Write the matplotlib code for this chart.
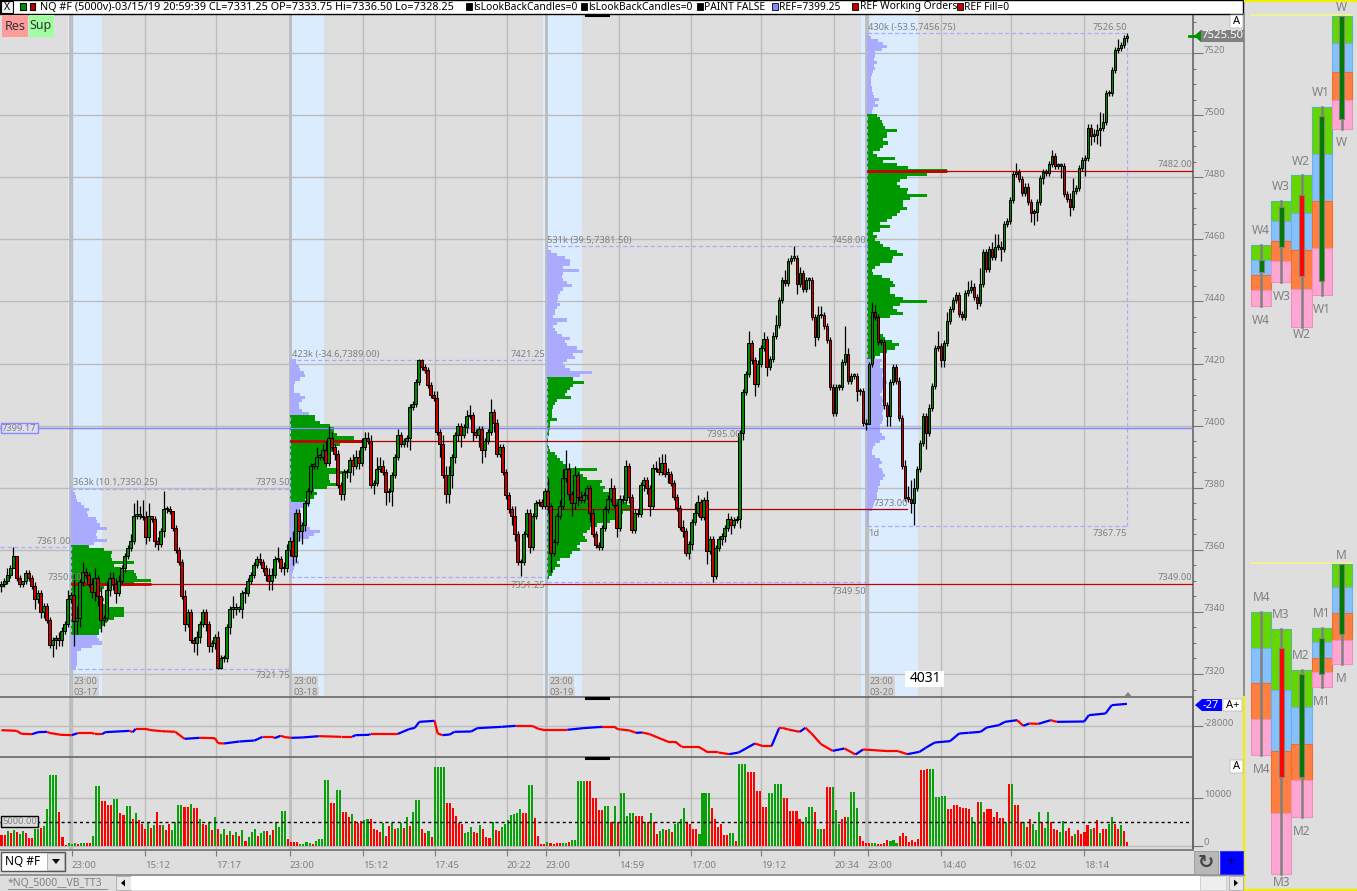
import numpy as np
import matplotlib
matplotlib.use('Agg')
import matplotlib.pyplot as plt
from matplotlib.collections import LineCollection
from matplotlib.patches import Rectangle, Polygon, FancyBboxPatch

plt.rcParams['font.family'] = ['Noto Sans', 'DejaVu Sans']

# candle closes, each candle opens where the last one closed
first_open = 7348.5
closes = [
    7349,7350,7352,7354,7358,7351,7349,7350,7352.5,7351,
    7348.5,7344,7346,7340,7342,7337.5,7329.5,7331,7331.5,7331,
    7334,7336,7344,7345.5,7337,7338,7349.5,7353,7352,7349,
    7346.5,7351,7345,7337.5,7338,7347,7351,7349,7346,7350,
    7354,7358,7360.5,7363,7371,7371,7371,7370.5,7364,7371,
    7370,7363,7362,7366,7373,7373,7372.5,7367,7360,7356,
    7345,7336,7340,7331,7330,7332,7336,7340,7336,7329,
    7330,7332,7322,7325,7325,7335,7341,7341,7341,7341,
    7346,7346,7350,7352,7355,7357,7356,7354,7352,7350,
    7352,7357,7357,7354,7354,7360,7363,7358,7372,7366,
    7368,7375,7379,7387,7387,7390,7390,7392,7388,7396,
    7393,7391,7381,7378,7385,7385,7389,7387,7390,7388,
    7393,7396,7395,7381,7381.5,7386,7387,7385,7378.5,7379,
    7384,7390,7397,7394,7395,7396,7406,7407,7414,7421,
    7419,7418,7413,7410,7409,7398,7394,7384,7378,7384,
    7390,7397,7400,7397,7399.5,7403,7403.5,7398,7397,7399,
    7392,7395,7398,7404.5,7401,7391,7393,7385,7377.5,7373,
    7371,7365,7356,7356,7365,7372,7361,7371,7375,7375.5,
    7374,7379,7374,7359,7362.5,7371,7374,7383,7386,7378,
    7375,7384,7377,7376,7377.5,7380,7372,7365,7361.5,7361,
    7367,7373,7376.5,7380,7374.5,7367,7376.5,7376,7387,7377,
    7366.5,7372,7371.5,7381,7382.5,7380,7374,7386.5,7386,7385,
    7388,7384.5,7384.5,7381.5,7377,7373.5,7367.5,7366,7359,7362,
    7369,7372,7375.5,7370.5,7376,7359.5,7363.5,7351.5,7360.5,7363.5,
    7364.5,7367,7370,7368,7369.5,7370,7397.5,7410.7,7416.5,7426.5,
    7421,7413.5,7420,7425,7428,7419,7421.5,7429,7432.5,7440.5,
    7447,7446,7453,7454,7454,7445.5,7449,7444,7447,7447,
    7435,7428.5,7435.5,7435.5,7432,7427.5,7412.5,7404,7412.5,7412.5,
    7420.5,7423,7414.5,7416,7416,7411,7411,7401,7400.5,7420,
    7436.7,7435,7427,7427,7406.5,7403,7414,7419,7414.5,7402.5,
    7387,7376.7,7376.5,7375,7380,7386,7394.4,7403,7397.5,7405.8,
    7412.7,7425,7425.5,7421,7426.5,7433.6,7437.5,7440.4,7442,7436,
    7435,7442.6,7443.7,7444.8,7441.5,7439.6,7445.6,7456,7450.5,7457,
    7454.3,7457.6,7457.6,7457,7465,7466,7472.6,7481,7481.6,7479.5,
    7475,7477,7472,7468.5,7468.8,7472,7479.8,7481.8,7481.4,7484.3,
    7486.7,7483.6,7483.6,7483.6,7474.5,7473,7470.5,7475.6,7476.4,7483,
    7485.4,7486.2,7496,7493.4,7493.6,7495.2,7496,7497.8,7507,7507.2,
    7514.5,7520.9,7521.5,7522.6,7524.7,7525.5]
# wick lengths in points above / below the body
wick_up = [
    1,1,2,1,3,0,1,0,1,1,
    1,1,1,1,1,1,1,1,1,2,
    1,1,3,1,7,4,1,3,1,1,
    2,3,1,3,1,3,2,2,2,2,
    1,1,1,2,4,5,3,5,2,4,
    0,1,1,1,6,1,1,0,1,1,
    1,2,1,1,1,2,1,1,1,1,
    1,1,2,1,1,1,1,4,2,1,
    1,2,1,1,1,1,2,1,1,2,
    2,1,4,1,2,2,1,3,1,1,
    1,1,1,1,1,3,1,2,3,4,
    2,1,1,1,1,1,1,2,2,2,
    3,2,2,2,1,4,3,2,1,1,
    1,1,2,1,1,1,1,1,1,0.5,
    0.5,1,1,1,1,2,1,3,3,3,
    1,1,1,1,1,2,3,1,1,1,
    1,1,1,4,1,1,1,1,1,1,
    1,3,1,1,1,1,1,1,1,1,
    1,1,4,1,1,1,2,3,6,2,
    1,3,1,2,1,1,1,1,1,1,
    1,1,1,3,1,1,1,1,2,1,
    1,1,1,1,1,1,1,1,2,4,
    3,3,2,1,1,1,1,2,1,1,
    1,3,2,1,1,3,1,1,1,1,
    1,1,2,1,1,1,1,1,1,4,
    1,1,1,1,2,1,1,1,3,1,
    1,3,1,1,4,1,2,1,1,1,
    1,1,3,3,1,1,1,1,1,1,
    1,9,2,1,1,1,1,1,1,0.5,
    3,2,1,1,1,1,1,1,1,1,
    1,2,4,6,3,1,1,1,1,1,
    1,1,5,1,1,3,1,1,1,1,
    1,1,3,2,1,1,5,1,1,1,
    2,4,4,2,1,1,1,1,3,1,
    1,1,1,1,1,1,1,1,1,1,
    2,1,1,1,1,1,2,4,1,1,
    1,1,1,1,2,2,5,3,1,1,
    1,1,3,1,1,1]
wick_down = [
    2,1,1,1,0,1,1,1,1,1,
    1,3,1,2,2,1,1,4,3,2,
    2,1,1,1,8,4,3,1,1,1,
    2,3,3,4,2,1,2,2,3,1,
    1,1,1,1,1,1,1,1,2,1,
    1,2,2,1,2,1,1,1,1,1,
    1,2,1,1,3,4,2,1,2,2,
    2,2,0.5,0.5,1,1,2,3,2,1,
    3,3,1,1,1,1,1,1,2,3,
    3,1,1,1,2,1,2,3,2,3,
    4,2,1,1,1,1,1,1,1,1,
    1,2,1,2,2,2,3,3,1,2,
    1,1,1,1,3,1,1,1,4,3,
    5,1,1,1,1,2,4,1,1,1,
    1,1,1,1,1,1,4,1,3,3,
    4,2,2,4,1,2,1,3,1,4,
    4,2,1,1,3,1,1,1,1,1,
    3,2,1,4.5,1,1,2,1,1,1,
    1,1,2,6,1,1,1,1,1,2,
    4,2,3,1,1,1,3,1,1,1,
    1,1,1,1,1,3,1,1,1,2,
    1,1,1,1,2,2,3,1,1,1,
    1,1,3,1,1,1,1,2,1,2,
    2,1,1,1,1,4,1,2,1,1,
    2,2,1,3,1,1,3,2,1,1,
    1,4,1,1,1,3,1,1,1,1,
    1,1,1,1,1,3,1,1,1,3,
    1,3,1,1,1,1,1,1,1,1,
    1,1,1,1,1,3,1,1,2,0,
    1,1,1,1,1,3,3,1,1,1,
    1,1,1,3,7,1,1,1,5,1,
    1,1,1,2,2,1,1,1,1,1,
    1,1,1,1,1,2,1,1,1,1,
    1,1,1,4,1,1,1,1,1,1,
    1,1,1,3,4,3,1,2,1,1,
    1,1,1,4,1,1,3,1,1,1,
    1,5,1,3,2,3,5,1,1,1,
    1,1,1,1,1,1]

# volume per bar, first part up to bar 202 and second part after it
vol_a = [
    2200,2200,3100,2600,3200,2800,2500,3000,2700,1600,
    1600,3600,3400,3700,4100,7700,14800,14800,14800,7000,
    1900,200,500,300,500,400,500,600,500,500,
    2100,12500,12500,9300,9300,8500,8500,9700,9700,6800,
    6500,8300,8300,5500,6900,5300,4600,3500,5000,3700,
    4300,7000,4300,4300,3200,4500,3300,5000,8600,8600,
    8100,8100,8800,8000,8000,5500,4500,4300,4700,3200,
    6100,3500,2500,3500,2300,3000,2200,2900,2000,3300,
    1000,1800,2900,3400,2000,2700,3100,3100,2200,3300,
    5000,4000,7300,7300,1500,700,700,700,300,400,
    800,600,300,900,1300,1300,13800,13800,8900,8900,
    11700,11700,7000,7000,6000,6600,5200,4800,5200,5300,
    5700,5700,3600,3300,2900,4700,2000,4200,4700,3400,
    3700,4800,3800,6000,4200,7000,9600,9600,3500,2600,
    3100,1800,16400,16400,16400,16400,9000,9000,7900,6300,
    4800,4500,2700,2800,4000,2800,2600,4300,3500,1800,
    1700,5000,3200,3000,3900,4600,5300,6500,6700,6800,
    7700,6800,6800,12800,12800,5800,2000,400,400,800,
    500,300,500,500,600,600,800,1200,1200,13600,
    13600,13600,13600,13600,9900,9900,7500,7500,8300,8300,
    5000,8400,5000]
vol_a_colors = (
    'rrgrgrggrr' 'rggrgggggr' 'rrgggrggrr' 'gggrrrrggr' 'rggrgrrrgr'
    'grrgrrgggg' 'rrgrrgrrgr' 'grggrgrgrg' 'rgggrggrgr' 'ggggrrrrgg'
    'ggrgggggrr' 'ggrrrgrrrg' 'grrrrgrrgr' 'ggrgrgggrr' 'grggggrrrr'
    'rrgggrrgrr' 'rgrrgggggg' 'grrggrrrrg' 'rrrrggrggg' 'ggrrrrrrgg'
    'rgr')
vol_b = [
    11000,11000,6300,6800,6900,6200,6200,6200,5000,4900,
    6800,5000,2500,3100,3600,3200,3500,2800,4500,5000,
    5600,7800,5000,4500,3500,3500,2500,11000,11000,11000,
    7800,5600,4000,4500,2200,2200,2700,2700,900,17200,
    17200,17200,15500,15500,15500,11500,11500,8200,8200,11000,
    11000,12900,12900,12900,10000,10000,7300,7200,7300,5700,
    5000,6100,8200,8200,7000,3600,3600,3600,12400,12400,
    12400,7500,4500,5500,6000,6000,11300,11300,7900,2000,
    900,500,500,600,600,300,400,500,1200,1000,
    1100,600,2100,2700,2000,800,1100,800,1300,15900,
    15900,16000,16100,16100,10300,10300,10500,10500,7600,7600,
    8600,8600,8100,7900,7900,7600,6000,5000,9100,9100,
    7000,7600,7600,6000,7000,5800,5800,5000,12900,12900,
    8600,8600,5000,5000,4000,5500,4500,3300,7000,5000,
    3700,7000,5000,3500,3200,2800,5200,3000,3800,2000,
    2500,3300,2400,2800,4400,3600,3700,5400,2700,3500,
    3500,4500,6000,4600,3500,4400,3000,800]
vol_b_colors = (
    'gggggrrrgr' 'grrggrgrgg' 'ggrrrrgggg' 'rrrrrrggrg' 'ggrrrrrrrg'
    'ggggrrrrrr' 'rgggrggrrr' 'gggrrggggr' 'rrrggrrrrg' 'ggrrrrrrrr'
    'rrggggggrr' 'rrrrrrggrg' 'rrrrrrrgrg' 'rrrgrrgggr' 'ggrrrggrrr'
    'grrrrgrrgr' 'rggrrgrr')
vol_b_colors = (vol_b_colors + 'r' * len(vol_b))[:len(vol_b)]
vol_level = 5000

# cumulative delta, bar number and value at each turn of the line
cvd_bar = [0,5,6.5,10,12,15,15.6,19.5,23,25,30,30.5,33,34,42,43,44,47,49,52.5,57,60,65,70,71,73,78,83,85.6,89,
           89.5,91.5,93,95,98.6,104,111.5,115,116,120.6,121,130,133.6,135.5,137,142,143,144.6,147,148.5,154,156,
           164,168.6,174,176,177.7,185.5,190.7,197,201,202,203,206,208,210,212.5,218.6,221,223,228.6,231.7,235,
           238.6,241.7,247,249.4,252.5,255,256,258,261.7,263.6,265.6,268.7,272.5,276.4,280,282.5,291,294,297,301,
           303,306,311,314,317,321,323,327,329,333,335,337,340,344,346,355,356.5,362,364,369]
cvd_val = [-28153,-28181,-28306,-28319,-28236,-28222,-28264,-28347,-28361,-28278,-28278,-28319,-28319,-28236,-28181,
           -28236,-28097,-28097,-28153,-28194,-28222,-28514,-28472,-28486,-28694,-28708,-28625,-28583,-28431,-28431,
           -28486,-28389,-28444,-28472,-28458,-28403,-28431,-28431,-28361,-28347,-28306,-28306,-28111,-28056,-27806,
           -27764,-28292,-28361,-28333,-28222,-28208,-28069,-28014,-27972,-27972,-28097,-28139,-28139,-28069,-28014,
           -28014,-28111,-28125,-28167,-28264,-28250,-28319,-28639,-28639,-28847,-28847,-29083,-29083,-29153,-29083,
           -28708,-28806,-28806,-28056,-28056,-28125,-28222,-28056,-28292,-28736,-29014,-28917,-29167,-28958,-29028,
           -29028,-29153,-29056,-28889,-28667,-28611,-28292,-28264,-28222,-28042,-27944,-27806,-27736,-27972,-27875,
           -27889,-27736,-27806,-27792,-27528,-27458,-27111,-27056]

# sessions: start bar, value area and volume per price level going down from the top
session_bar = [23, 95, 179, 284]
session_day = ['03-17', '03-18', '03-19', '03-20']
session_hi = [7379.5, 7421.25, 7458.0, 7526.5]
session_lo = [7321.75, 7351.25, 7349.5, 7367.75]
poc_price = [7349.0, 7395.0, 7373.0, 7482.0]
poc_end_bar = [390.7, 242.5, 297, 390.7]
va_hi = [7361, 7403, 7415, 7500]
va_lo = [7333, 7376, 7350, 7422]
prof_top = [7380, 7421, 7456, 7525]
prof1 = [3,8,12,15,18,30,40,55,50,52,75,78,88,108,80,75,80,108,70,55,
         100,125,120,125,190,130,150,190,195,200,240,190,100,90,80,85,100,95,105,160,
         160,160,130,110,100,90,85,85,80,85,95,65,30,20,18,18,18,18,15]
prof2 = [18,18,25,30,40,45,30,15,10,10,12,30,45,35,25,25,35,55,
         75,75,90,120,130,130,140,190,215,150,130,130,115,100,100,105,110,150,170,115,115,120,140,110,70,80,70,45,
         60,40,30,30,30,30,35,50,60,90,70,55,30,20,18,15,15,20,20,25,15,10,8,6]
prof3 = [12,30,55,70,70,50,98,50,45,50,60,75,50,40,35,35,30,40,30,25,25,20,60,30,20,25,30,45,70,55,60,90,108,80,85,
         60,50,55,70,135,100,
         78,112,80,70,60,55,72,30,25,18,15,15,15,30,10,10,10,6,6,4,4,4,6,10,25,30,40,50,60,150,100,110,120,165,160,
         175,170,190,200,230,240,250,255,230,210,210,190,150,130,120,110,115,120,100,90,100,75,70,40,30,40,25,20,15,8,4]
prof4 = [12,35,50,60,45,25,25,22,30,22,24,20,15,12,12,14,15,15,18,22,38,25,35,18,15,
         30,40,45,50,55,90,60,60,50,65,50,40,20,30,85,50,90,125,240,180,120,100,90,100,125,120,180,130,110,110,120,
         100,90,75,60,40,70,40,20,30,25,40,50,70,90,108,80,75,40,25,16,20,45,70,80,85,70,70,85,110,180,100,80,90,110,
         70,40,40,35,35,40,50,55,75,96,85,60,40,25,
         45,40,40,55,50,45,50,60,55,50,45,40,45,50,45,55,50,45,50,50,45,40,40,40,45,55,40,25,20,15,15,25,40,45,38,45,
         50,55,50,40,40,35,35,30,30,25,22,20,15,8,6,5,4,3]
profiles = [prof1, prof2, prof3, prof4]

# weekly and monthly quartile stacks at the right: top, three quartiles, bottom
stack_cols = [0, 1, 2, 3, 4]
week_names = ['W4', 'W3', 'W2', 'W1', 'W']
week_levels = [[7458.1,7453.3,7448.5,7443.8,7438.6],
               [7472.3,7466,7459.6,7453.1,7446.4],
               [7480.7,7468.6,7456.4,7444.1,7431.9],
               [7502.5,7487.6,7472.4,7457.3,7442.2],
               [7531.9,7523.3,7514,7505,7495.6]]
week_body = [[7449.4,7453.3],[7457.4,7470.5],[7474.4,7448.3],[7446.7,7499.8],[7498.6,7531.9]]
week_label_top = [7462.8,7476.9,7485.2,7507.2,7534.7]
week_label_bot = [7434,7441.7,7429.4,7437.4,7491.1]
month_names = ['M4', 'M3', 'M2', 'M1', 'M']
month_levels = [[7339.9,7328.5,7317,7305.4,7293.9],
                [7334.5,7314.7,7295.1,7275.2,7255.5],
                [7321.2,7309.5,7297.6,7285.7,7273.8],
                [7334.8,7330.2,7325.3,7320.5,7315.7],
                [7355.5,7347.9,7339.6,7331.1,7323.1]]
month_body = [[7324.3,7324.3],[7328.5,7286.8],[7286.8,7320],[7320,7331.6],[7332.8,7355.5]]
month_label_top = [7344.6,7339.1,7325.9,7339.4,7358.2]
month_label_bot = [7289.1,7252.9,7269.2,7311,7318.5]

time_bars = [23,47,70.3,94.6,118.5,142,165.7,178.5,202.5,226,249,273,284,308,331,355]
time_labels = ['23:00','15:12','17:17','23:00','15:12','17:45','20:22','23:00','14:59','17:00','19:12','20:34',
               '23:00','14:40','16:02','18:14']

ref_price = 7399.17
last_price = 7525.5

W, H = 1357, 891
BG = '#dedede'
GRID = '#bcbcbc'
LILAC = '#aaaaff'
GREEN = '#009a00'
TXT = '#808080'
FS = 6.7
XLIM = (-0.49, 390.66)


def px_rect(l, t, r, b):
    return [l / W, 1 - b / H, (r - l) / W, (b - t) / H]


def price_axes(ax):
    ax.set_facecolor(BG)
    ax.set_xlim(*XLIM)
    for s in ['top', 'left', 'bottom']:
        ax.spines[s].set_visible(False)
    ax.spines['right'].set_color('#666666')
    ax.spines['right'].set_linewidth(1.2)
    ax.yaxis.tick_right()
    ax.set_axisbelow(True)
    ax.grid(True, color=GRID, lw=1.0)
    ax.set_xticks(time_bars)
    ax.tick_params(axis='x', length=0, labelbottom=False)
    ax.tick_params(axis='y', which='major', length=7.2, width=0.8, color='#777777', labelright=False)
    ax.tick_params(axis='y', which='minor', length=2.2, width=0.8, color='#777777')
    # the four session lines are heavier than the rest of the grid
    for b in session_bar:
        ax.axvline(b - 0.5, color=GRID, lw=2.0, zorder=1)


def axis_labels(ax, values, labels):
    # labels sit a little above their tick, like the platform draws them
    for v, s in zip(values, labels):
        ax.annotate(s, xy=(1, v), xycoords=('axes fraction', 'data'), xytext=(11, 3), textcoords='offset pixels',
                    color=TXT, fontsize=FS + 0.1, va='center', ha='left', annotation_clip=False)


fig = plt.figure(figsize=(W / 100, H / 100), dpi=100, facecolor=BG)
ax = fig.add_axes(px_rect(0, 14, 1193, 697))
ax_cvd = fig.add_axes(px_rect(0, 697, 1193, 757))
ax_vol = fig.add_axes(px_rect(0, 757, 1193, 849))
ax_side = fig.add_axes(px_rect(1245, 0, 1357, 891))

# ---- price panel
price_axes(ax)
ax.set_ylim(7312.6, 7532.56)
price_ticks = np.arange(7320, 7521, 20)
ax.set_yticks(price_ticks)
ax.set_yticks(np.arange(7315, 7531, 5), minor=True)
axis_labels(ax, price_ticks, [str(p) for p in price_ticks])

band_from = [21.8, 94.6, 177.5, 281.8]
band_to = [33, 105.7, 190.3, 300.5]
for b0, b1 in zip(band_from, band_to):
    ax.axvspan(b0, b1, color='#dbecff', lw=0, zorder=0.5)

poc_col = ['#c80000', '#a80000', '#a80000', '#c80000']
for k, prof in enumerate(profiles):
    start = session_bar[k] - 0.3
    levels = prof_top[k] - np.arange(len(prof))
    vols = np.array(prof) / 9.15
    cols = [GREEN if va_lo[k] <= p <= va_hi[k] else LILAC for p in levels]
    ax.barh(levels, vols, left=start, height=1.0, color=cols, lw=0, zorder=2, antialiased=False)
    # point of control runs on as a thin line to where price came back
    ax.plot([start, poc_end_bar[k]], [poc_price[k]] * 2, color=poc_col[k], lw=0.9, zorder=4)
    if k != 2:
        ax.plot([start, start + max(prof) / 9.15], [poc_price[k]] * 2, color='#c40000', lw=2.0, zorder=4,
                solid_capstyle='butt')
    # session high / low in dashes
    end = session_bar[k + 1] if k < 3 else 369
    for lev in [session_hi[k], session_lo[k]]:
        ax.plot([session_bar[k] - 0.3, end], [lev, lev], color=LILAC, lw=0.9, ls=(0, (3.5, 2)), zorder=3)
    ax.plot([session_bar[k] - 0.3] * 2, [session_lo[k], session_hi[k]], color=LILAC, lw=0.9,
            ls=(0, (3, 2)), zorder=3)
ax.plot([369, 369], [session_lo[3], session_hi[3]], color=LILAC, lw=0.9, ls=(0, (3, 2)), zorder=3)
ax.plot([-0.49, 23], [7361, 7361], color=LILAC, lw=0.9, ls=(0, (3.5, 2)), zorder=3)
ax.axhline(ref_price, color='#8484ff', lw=1.0, zorder=3.5)

closes_arr = np.array(closes)
opens_arr = np.r_[first_open, closes_arr[:-1]]
bar_x = np.linspace(0, 369, len(closes_arr))
top = np.maximum(opens_arr, closes_arr)
bot = np.minimum(opens_arr, closes_arr)
ax.vlines(bar_x, bot - np.array(wick_down), top + np.array(wick_up), color='black', lw=0.9, zorder=5)
cc = ['#008800' if c >= o else '#c80000' for o, c in zip(opens_arr, closes_arr)]
ax.bar(bar_x, np.maximum(top - bot, 0.5), bottom=bot, width=0.85, color=cc, edgecolor='black', lw=0.7, zorder=6)

# ---- cumulative delta
price_axes(ax_cvd)
ax_cvd.set_ylim(-29271, -26771)
ax_cvd.set_yticks([-28000])
axis_labels(ax_cvd, [-28000], ['-28000'])
pts = np.column_stack([cvd_bar, cvd_val])
segs = np.stack([pts[:-1], pts[1:]], axis=1)
seg_col = ['#0000ff' if d > 0 else '#ff0000' for d in np.diff(cvd_val)]
ax_cvd.add_collection(LineCollection(segs, colors=seg_col, linewidths=1.6, zorder=5))

# ---- volume
price_axes(ax_vol)
ax_vol.set_ylim(-692, 18595)
ax_vol.set_yticks([0, 10000])
axis_labels(ax_vol, [0, 10000], ['0', '10000'])
vol_x = np.r_[np.linspace(0, 202, len(vol_a)), np.linspace(203, 369, len(vol_b))]
vol_all = np.array(vol_a + vol_b)
vol_colors = vol_a_colors + vol_b_colors
vc = ['#0aa00a' if c == 'g' else '#ff0000' for c in vol_colors]
ax_vol.bar(vol_x, vol_all, width=0.68, color=vc, lw=0, zorder=4)
ax_vol.axhline(vol_level, color='black', lw=1.0, ls=(0, (2.2, 2.2)), zorder=5)
ax_vol.set_xticks(time_bars)
ax_vol.set_xticklabels(time_labels, ha='left')
ax_vol.tick_params(axis='x', length=5, width=0.8, color='#777777', labelbottom=True, labelcolor=TXT,
                   labelsize=FS + 0.3, pad=3.6)

# ---- price panel texts
t = dict(color=TXT, fontsize=FS, zorder=8, va='center')
def lab(bar_px, py, s, **kw):
    ax.text((bar_px - 1.5) / 3.05, py, s, **{**t, **kw})

lab(73, 7381.6, '363k (10.1,7350.25)')
lab(290, 7381.6, '7379.50', ha='right')
lab(71, 7362.7, '7361.00', ha='right')
lab(82, 7351.2, '7350.00', ha='right')
lab(292, 7422.9, '423k (-34.6,7389.00)')
lab(545, 7422.9, '7421.25', ha='right')
lab(547, 7459.6, '531k (39.5,7381.50)')
lab(866, 7459.6, '7458.00', ha='right')
lab(868, 7528.2, '430k (-53.5,7456.75)')
lab(1127, 7528.2, '7526.50', ha='right')
lab(741, 7397.2, '7395.00', ha='right')
lab(908, 7375.0, '7373.00', ha='right')
lab(545, 7348.4, '7351.25', ha='right')
lab(866, 7346.6, '7349.50', ha='right')
lab(290, 7319.6, '7321.75', ha='right')
lab(1127, 7365.2, '7367.75', ha='right')
lab(868, 7365.2, '1d')
lab(1192, 7484.2, '7482.00', ha='right')
lab(1192, 7351.0, '7349.00', ha='right')
for b, d in zip(session_bar, session_day):
    box = dict(boxstyle='square,pad=0.1', fc='#d4d4d4', ec='none')
    ax.text(b + 0.7, 7317.6, '23:00', bbox=box, **t)
    ax.text(b + 0.7, 7314.2, d, bbox=box, **t)

# ---- side panel
ax_side.set_facecolor(BG)
ax_side.set_xlim(-0.31, 5.26)
ax_side.set_ylim(7250.1, 7537.07)
ax_side.axis('off')
q_fill = ['#66d600', '#85c1ff', '#ff8040', '#ffa6d3']
q_edge = ['#55b8a0', '#6fb0e8', '#e87030', '#ee90c0']


def draw_stack(levels, bodies, names, tops, bots):
    for c, lv, bd, nm, lt, lb_y in zip(stack_cols, levels, bodies, names, tops, bots):
        for j in range(4):
            ax_side.bar(c + 0.5, lv[j] - lv[j + 1], bottom=lv[j + 1], width=1.0, color=q_fill[j],
                        edgecolor=q_edge[j], lw=0.8, zorder=2)
        ax_side.plot([c + 0.5] * 2, [lv[0], lv[4]], color='#808080', lw=1.8, zorder=3)
        col = '#007a00' if bd[1] >= bd[0] else '#ff0000'
        if abs(bd[1] - bd[0]) > 0.1:
            ax_side.bar(c + 0.5, abs(bd[1] - bd[0]), bottom=min(bd), width=0.24, color=col,
                        edgecolor='#808080', lw=0.8, zorder=4)
        ax_side.text(c + 0.5 - (0.02 if c else 0), lt, nm, color='#808080', fontsize=8.6, ha='center', va='center', zorder=5)
        ax_side.text(c + 0.5, lb_y, nm, color='#808080', fontsize=8.6, ha='center', va='center', zorder=5)


draw_stack(week_levels, week_body, week_names, week_label_top, week_label_bot)
draw_stack(month_levels, month_body, month_names, month_label_top, month_label_bot)
ax_side.plot([0, 5], [week_levels[4][0] + 0.3] * 2, color='#f5f58a', lw=1.2, zorder=5)
ax_side.plot([0, 5], [month_levels[4][0] + 0.3] * 2, color='#f5f58a', lw=1.2, zorder=5)

# ---- window furniture on top, in pixels
ui = fig.add_axes([0, 0, 1, 1], zorder=20)
ui.set_xlim(0, W)
ui.set_ylim(H, 0)
ui.axis('off')
ui.patch.set_alpha(0)


def rect(x0, y0, x1, y1, fc, ec='none', lw=0.8, z=1):
    ui.add_patch(Rectangle((x0, y0), x1 - x0, y1 - y0, fc=fc, ec=ec, lw=lw, zorder=z))


# panel separators
for yy in [697, 757]:
    ui.plot([0, 1193], [yy, yy], color='#666666', lw=1.2, zorder=2)
    ui.plot([586, 608], [yy + 1, yy + 1], color='black', lw=2.2, zorder=2)
ui.plot([586, 608], [15, 15], color='black', lw=2.2, zorder=2)
ui.add_patch(Polygon([[1124, 697], [1132, 697], [1128, 692]], fc='#808080', ec='none', zorder=2))
ui.plot([1193, 1193], [697, 849], color='#666666', lw=1.2, zorder=2)
ui.plot([0, 1193], [849.5, 849.5], color='#808080', lw=1.4, zorder=2)

# top title bar
rect(0, 0, 1243, 13.5, 'white', 'black', 1.0)
rect(1, 1, 13, 13, '#f0f0f0', 'black', 0.8, 2)
ui.text(7, 7, 'X', fontsize=7.5, ha='center', va='center', color='black', zorder=3)
rect(20, 3, 25.5, 10, '#009000', 'black', 0.8, 2)
rect(29.5, 3, 35, 10, '#c00000', 'black', 0.8, 2)
ui.text(40, 7, 'NQ #F (5000v)-03/15/19 20:59:39 CL=7331.25 OP=7333.75 Hi=7336.50 Lo=7328.25', fontsize=7.8,
        va='center', color='black', zorder=3)
legend_x = [466, 581, 697, 772, 852, 957]
legend_txt = ['lsLookBackCandles=0', 'lsLookBackCandles=0', 'PAINT FALSE', 'REF=7399.25', 'REF Working Orders',
              'REF Fill=0']
legend_col = ['black', 'black', 'black', '#8888ff', '#c00000', '#c00000']
for lx, s, c in zip(legend_x, legend_txt, legend_col):
    rect(lx, 3, lx + 6, 10, c, 'black', 0.6, 2)
    ui.text(lx + 7.5, 7, s, fontsize=7.4, va='center', color='black', zorder=3)

# Res / Sup
rect(2, 15, 28, 37, '#ff9d9d', z=2)
rect(29, 15, 54, 37, '#a0ffa0', z=2)
ui.text(15, 26, 'Res', fontsize=9, ha='center', va='center', color='#333333', zorder=3)
ui.text(41, 26, 'Sup', fontsize=9, ha='center', va='center', color='#333333', zorder=3)

# last price marker
ui.plot([1189, 1194], [36, 36], color='#009000', lw=2, zorder=3)
ui.add_patch(Polygon([[1194, 36], [1201, 30], [1201, 42]], fc='#009000', ec='none', zorder=3))
rect(1201, 30, 1244, 42, '#808080', z=3)
ui.text(1223, 36, f'{last_price:.2f}', fontsize=8.2, ha='center', va='center', color='white', zorder=4)
ui.add_patch(FancyBboxPatch((1231, 16), 11, 11, boxstyle='round,pad=1', fc='white', ec='#bbbbbb', lw=0.6, zorder=3))
ui.text(1236.5, 21.5, 'A', fontsize=8, ha='center', va='center', color='black', zorder=4)

# ref price tag
rect(0.5, 423, 38, 433, '#dcdcf4', '#8888ff', 1.0, 3)
ui.text(19, 428.2, f'{ref_price:.2f}', fontsize=FS, ha='center', va='center', color='#808080', zorder=4)

# 4031 box
rect(905, 671, 944, 687, 'white', z=3)
ui.text(925, 679, '4031', fontsize=10, ha='center', va='center', color='black', zorder=4)

# delta tag, A+ and A
ui.add_patch(Polygon([[1195, 705], [1202, 699], [1222, 699], [1222, 711], [1202, 711]], fc='#0000ff', ec='none', zorder=3))
ui.text(1211, 705, '-27', fontsize=8, ha='center', va='center', color='white', zorder=4)
ui.add_patch(FancyBboxPatch((1224, 700), 17, 10, boxstyle='round,pad=1', fc='white', ec='#bbbbbb', lw=0.6, zorder=3))
ui.text(1232.5, 705, 'A+', fontsize=8, ha='center', va='center', color='black', zorder=4)
ui.add_patch(FancyBboxPatch((1231, 761), 11, 11, boxstyle='round,pad=1', fc='white', ec='#bbbbbb', lw=0.6, zorder=3))
ui.text(1236.5, 766.5, 'A', fontsize=8, ha='center', va='center', color='black', zorder=4)

# 5000 tag
rect(1, 816, 38, 827, '#dcdcdc', 'black', 1.0, 3)
ui.text(19.5, 821.5, '5000.00', fontsize=FS, ha='center', va='center', color='#808080', zorder=4)

# right edge of the panels and the yellow frame
ui.plot([1244, 1244], [14, 697], color='#808080', lw=1.2, zorder=2)
ui.plot([1244, 1244], [697, 891], color='#f0f000', lw=1.6, zorder=2)
ui.plot([1245, 1357], [0.5, 0.5], color='#f0f000', lw=1.6, zorder=2)
ui.plot([1245, 1357], [890, 890], color='#f0f000', lw=1.6, zorder=2)

# combo box
rect(1, 852, 65, 871, 'white', '#555555', 1.0, 3)
rect(47, 853, 64, 870, '#e4e4e4', '#aaaaaa', 0.6, 4)
ui.add_patch(Polygon([[52, 859], [60, 859], [56, 864]], fc='black', ec='none', zorder=5))
ui.text(5, 861.5, 'NQ #F', fontsize=8.5, va='center', color='black', zorder=5)

# bottom tab strip
rect(0, 875, 1244, 891, BG, z=2)
ui.plot([0, 1244], [875, 875], color='#888888', lw=1.2, zorder=3)
ui.text(8, 883, '*NQ_5000__VB_TT3', fontsize=7.5, va='center', color='#808080', zorder=3)
ui.plot([8, 107], [888.5, 888.5], color='#808080', lw=0.6, zorder=3)
rect(116, 876, 131, 890, '#e8e8e8', '#aaaaaa', 0.6, 3)
ui.add_patch(Polygon([[121, 883], [125, 879.5], [125, 886.5]], fc='black', ec='none', zorder=4))
rect(131, 876, 1200, 890, 'white', z=3)
rect(1200, 876, 1226, 890, '#eeeeee', '#cccccc', 0.6, 3)
rect(1229, 876, 1243, 890, '#e8e8e8', '#aaaaaa', 0.6, 3)
ui.add_patch(Polygon([[1238, 883], [1234, 879.5], [1234, 886.5]], fc='black', ec='none', zorder=4))

# refresh and plus buttons
rect(1194, 851, 1218, 874, '#b8b8b8', '#999999', 0.6, 3)
ui.text(1206, 862, '\u21bb', fontsize=14, fontweight='bold', ha='center', va='center', color='#444444', zorder=4,
        family='DejaVu Sans')
rect(1219.5, 851, 1243, 874, '#0000ff', '#3333ff', 0.8, 3)
ui.text(1231, 862, '+', fontsize=9, ha='center', va='center', color='#000044', zorder=4)

fig.savefig('out.png', dpi=100, facecolor=BG)
